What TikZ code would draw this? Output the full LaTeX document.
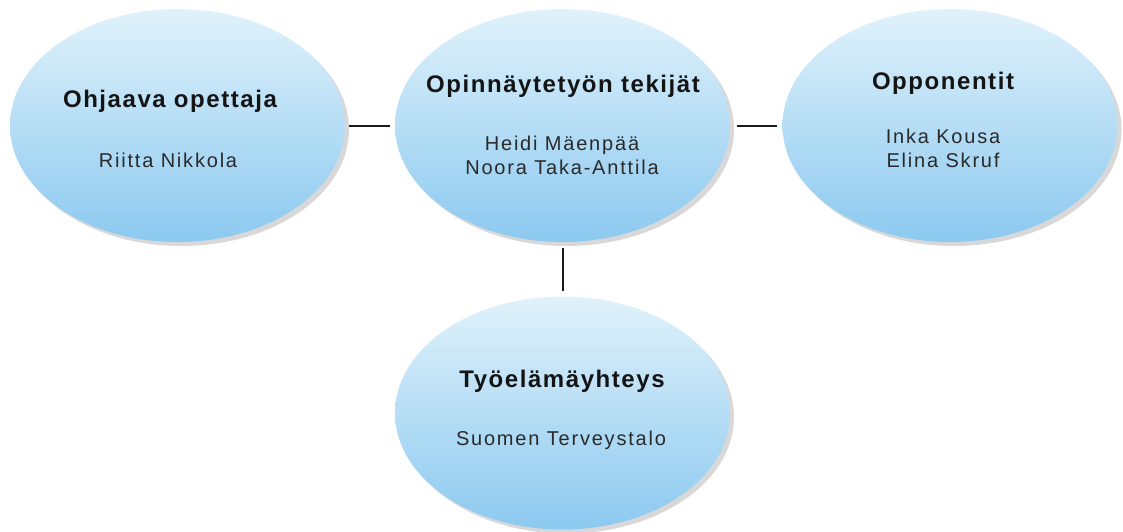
\documentclass[tikz,border=0pt]{standalone}
\usepackage{fontspec}
\usepackage{tikz}
\usetikzlibrary{shapes.geometric,shadows,calc}
\newfontfamily\titlefont{Liberation Sans}[LetterSpace=6.5]
\newfontfamily\namefont{Liberation Sans}[LetterSpace=9]
\definecolor{bubbletop}{HTML}{E0F2FB}
\definecolor{bubblebot}{HTML}{8CC9F0}
\definecolor{titlegray}{HTML}{141414}
\definecolor{namegray}{HTML}{2A2A2A}

\tikzset{
  bubble/.style={ellipse,minimum width=335pt,minimum height=233pt,inner sep=0pt,
    top color=bubbletop,bottom color=bubblebot,
    drop shadow={shadow xshift=4pt,shadow yshift=-4pt,opacity=0.22,fill=black!70}},
  btitle/.style={font=\titlefont\bfseries\fontsize{24}{28}\selectfont,text=titlegray},
  bnames/.style={font=\namefont\fontsize{20}{24}\selectfont,text=namegray,align=center},
  link/.style={line width=2pt,draw=black!90,shorten >=5pt,shorten <=4pt}
}

\begin{document}
\begin{tikzpicture}[x=1pt,y=-1pt]
  \useasboundingbox (0,0) rectangle (1123,532);
  % ellipses
  \node[bubble] (ohjaaja) at (177.5,125.5) {};
  \node[bubble] (tekijat) at (562.5,125.5) {};
  \node[bubble] (opponentit) at (950,125.5) {};
  \node[bubble] (tyoelama) at (562.5,413) {};
  % texts
  \node[btitle] (ohjaajaT) at (170,101) {Ohjaava opettaja};
  \node[bnames] (ohjaajaN) at (168,160) {Riitta Nikkola};
  \node[btitle] (tekijatT) at (563,86) {Opinnäytetyön tekijät};
  \node[bnames] (tekijatN) at (562,155) {Heidi Mäenpää\\Noora Taka-Anttila};
  \node[btitle] (opponentitT) at (943,83) {Opponentit};
  \node[bnames] (opponentitN) at (943,148.5) {Inka Kousa\\Elina Skruf};
  \node[btitle] (tyoelamaT) at (562,381) {Työelämäyhteys};
  \node[bnames] (tyoelamaN) at (561,440) {Suomen Terveystalo};
  % connectors
  \draw[link] (ohjaaja.east) -- (tekijat.west);
  \draw[link,shorten <=7pt] (tekijat.east) -- (opponentit.west);
  \draw[link,shorten <=6pt] (tekijat.south) -- (tyoelama.north);
\end{tikzpicture}
\end{document}
